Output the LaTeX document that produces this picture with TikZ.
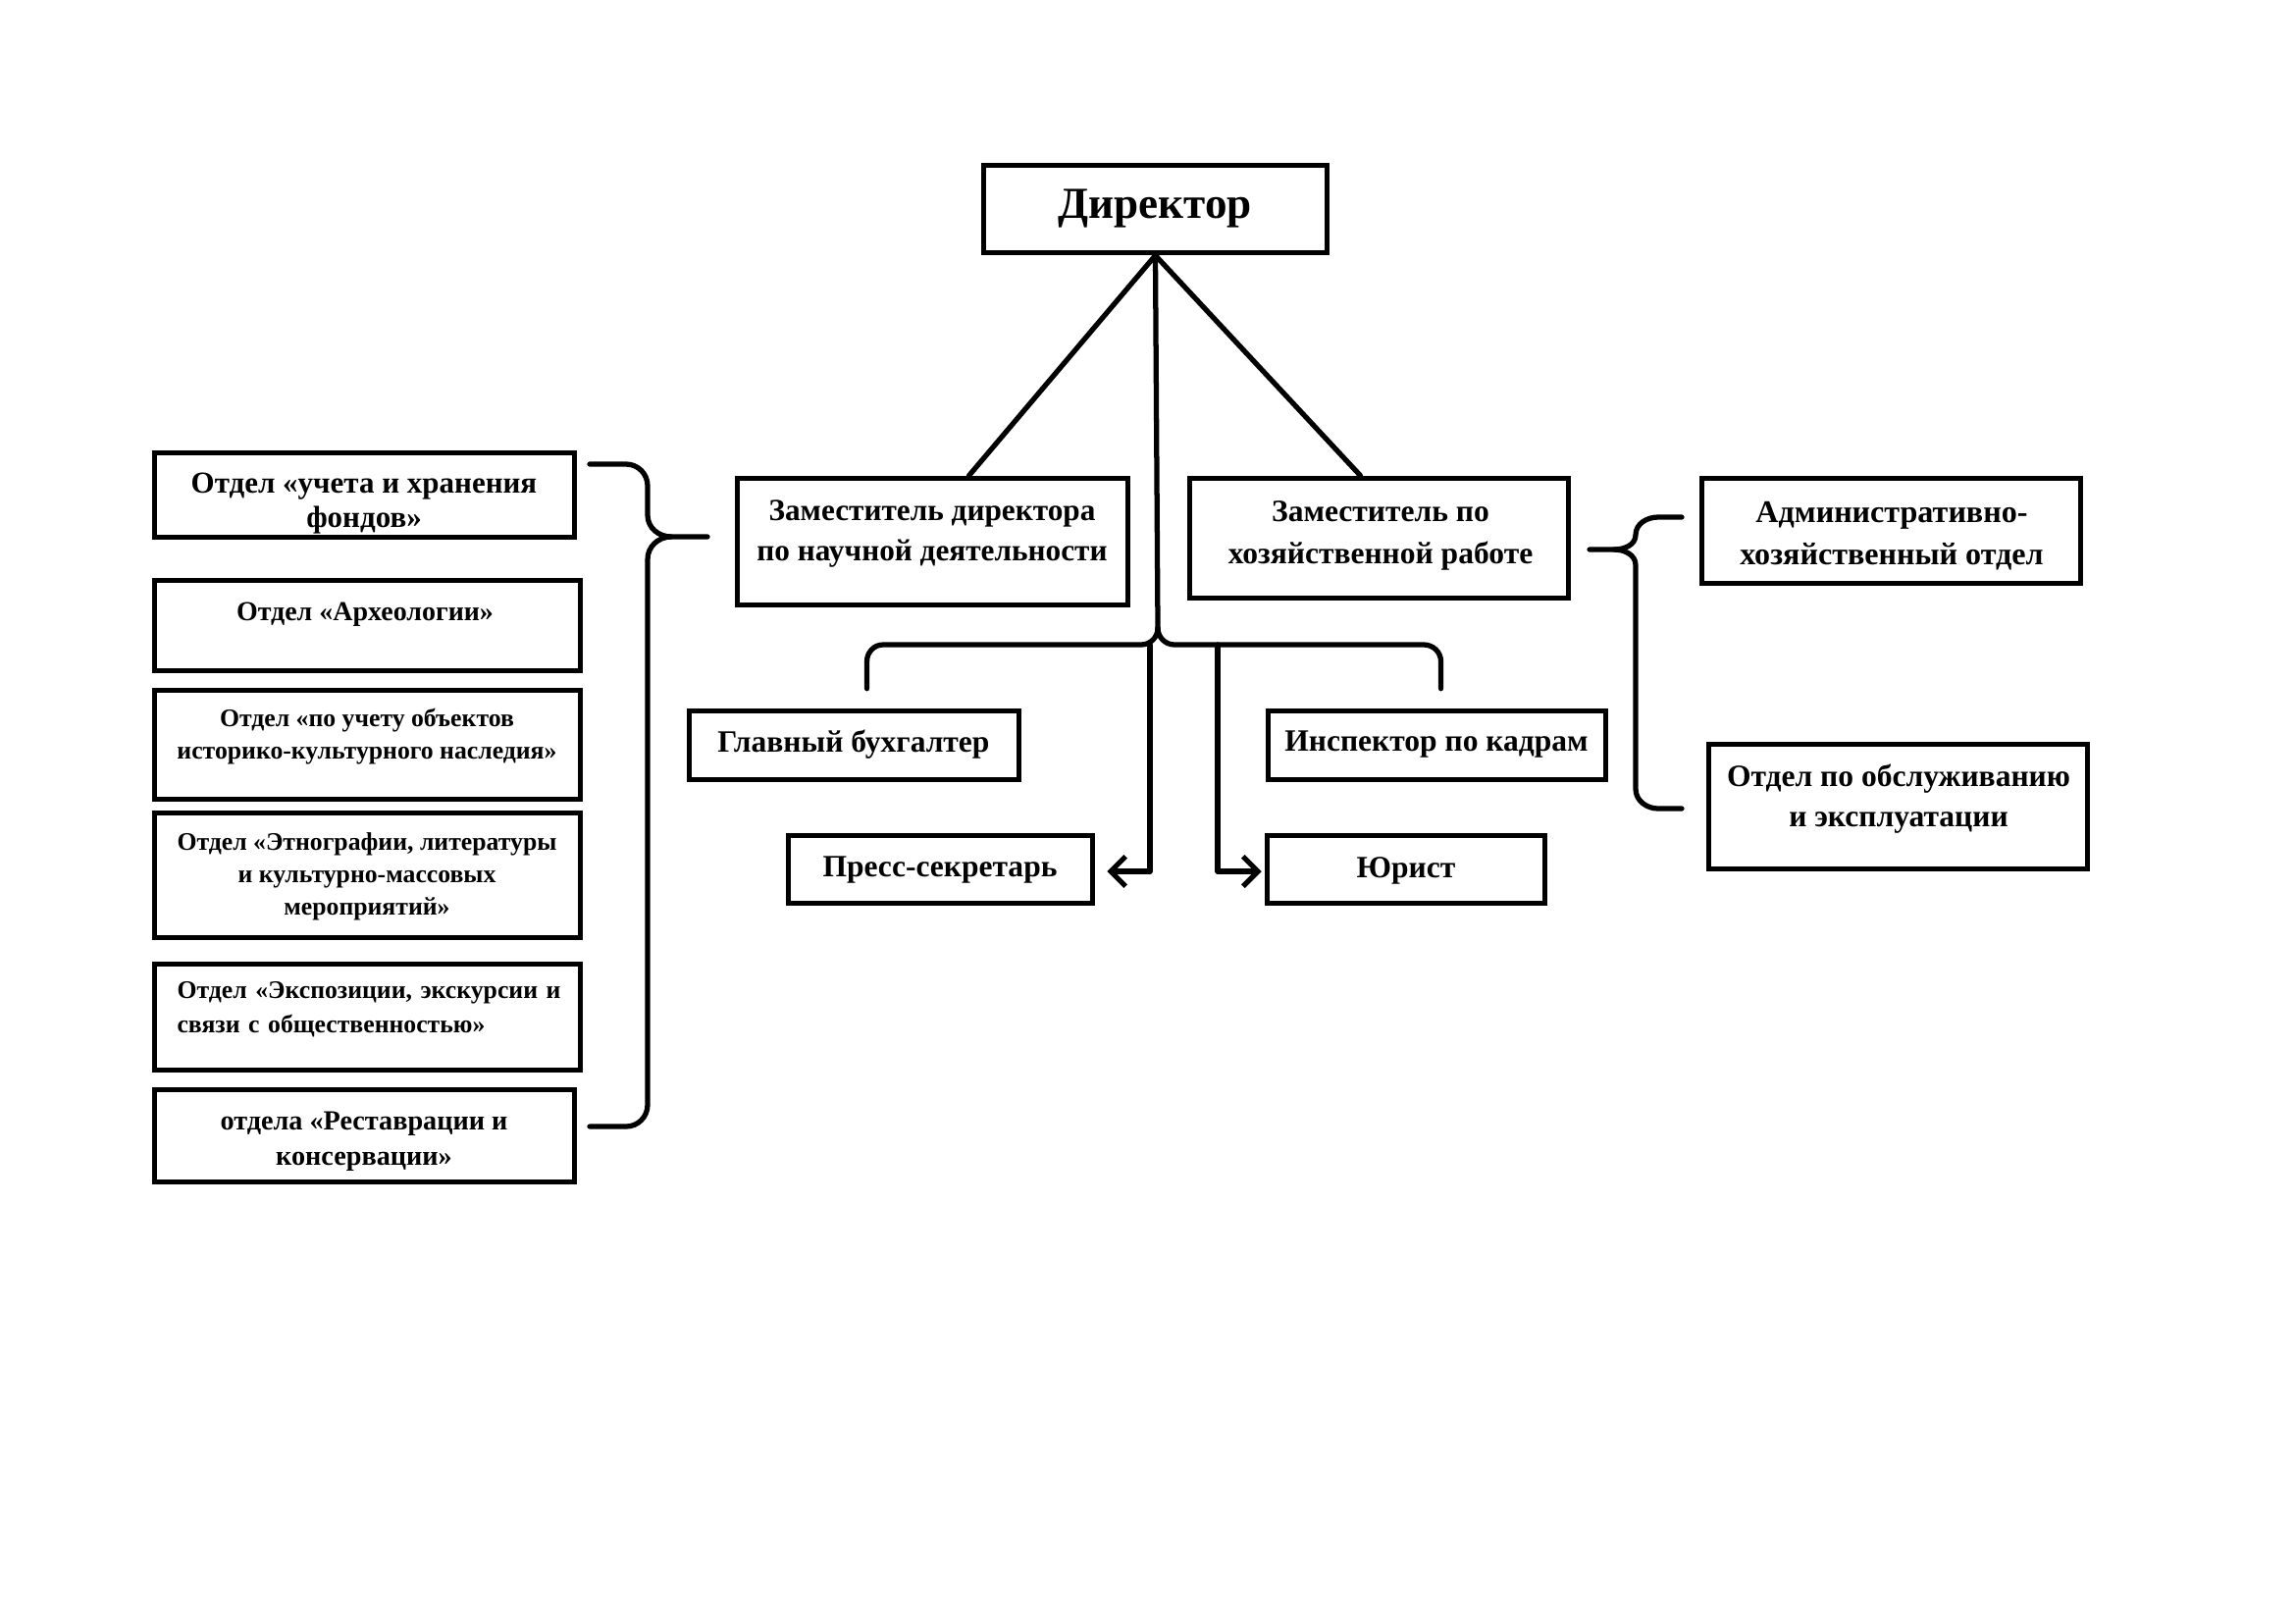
\documentclass[tikz,border=0pt]{standalone}
\usepackage{fontspec}
\setmainfont{Liberation Serif}
\usetikzlibrary{arrows.meta,calc}
\tikzset{
  box/.style={draw, line width=2pt, rectangle, inner sep=0pt, fill=white},
  txt/.style={align=center, inner sep=0pt},
  conn/.style={line width=1.9pt, line cap=round, line join=round},
  tip/.style={-{Straight Barb[length=5.5pt,width=11pt,line width=1.9pt]}}
}
\newcommand\fs[2]{\fontsize{#1}{#2}\selectfont\bfseries}
\newcommand\bx[5]{\node[box, minimum width={(#4-#2-5)*0.127mm}, minimum height={(#5-#3-5)*0.127mm}] (#1) at ({(#2+#4)/2},{(#3+#5)/2}) {};}
\begin{document}
\begin{tikzpicture}[x=0.127mm,y=-0.127mm]
\useasboundingbox (0,0) rectangle (2339,1654);
\fill[white] (0,0) rectangle (2339,1654);

% boxes
\bx{dir}{1000}{166}{1355}{260}
\bx{zn}{749}{485}{1152}{619}
\bx{zh}{1210}{485}{1601}{612}
\bx{gb}{700}{722}{1041}{797}
\bx{ik}{1290}{722}{1639}{797}
\bx{ps}{801}{849}{1116}{923}
\bx{ju}{1289}{849}{1577}{923}
\bx{ah}{1732}{485}{2123}{597}
\bx{oo}{1739}{756}{2130}{888}
\bx{la}{155}{459}{588}{550}
\bx{lb}{155}{589}{594}{686}
\bx{lc}{155}{701}{594}{817}
\bx{ld}{155}{826}{594}{958}
\bx{le}{155}{980}{594}{1093}
\bx{lf}{155}{1108}{588}{1207}

% texts
\node[txt, font=\fs{16.3}{19}] (tdir) at (1177,213) {Директор};
\node[txt, font=\fs{11.3}{15.1}] (tzn) at (950,544) {Заместитель директора\\по научной деятельности};
\node[txt, font=\fs{11.4}{15.3}] (tzh) at (1407,546) {Заместитель по\\хозяйственной работе};
\node[txt, font=\fs{11.4}{14}] (tgb) at (870,759) {Главный бухгалтер};
\node[txt, font=\fs{11.4}{14}] (tik) at (1464,759) {Инспектор по кадрам};
\node[txt, font=\fs{11.4}{14}] (tps) at (958,887) {Пресс-секретарь};
\node[txt, font=\fs{11.4}{14}] (tju) at (1433,887) {Юрист};
\node[txt, font=\fs{11.6}{15.5}] (tah) at (1928,546) {Административно-\\хозяйственный отдел};
\node[txt, font=\fs{11.4}{15.1}] (too) at (1935,814) {Отдел по обслуживанию\\и эксплуатации};
\node[txt, font=\fs{11.2}{12.6}] (tla) at (371,513) {Отдел «учета и хранения\\фондов»};
\node[txt, font=\fs{10.1}{12}] (tlb) at (372,626) {Отдел «Археологии»};
\node[txt, font=\fs{9.3}{11.9}] (tlc) at (374,751) {Отдел «по учету объектов\\историко-культурного наследия»};
\node[txt, font=\fs{9.3}{11.9}] (tld) at (374,893) {Отдел «Этнографии, литературы\\и культурно-массовых\\мероприятий»};
\node[txt, font=\fs{9.3}{12.6}, anchor=west, align=left, text width=140.8pt] (tle) at (180,1029) {\makebox[\linewidth][s]{Отдел «Экспозиции, экскурсии и}\\связи с общественностью»};
\node[txt, font=\fs{10.2}{13}] (tlf) at (371,1163) {отдела «Реставрации и\\консервации»};

% director to deputies
\draw[conn] (dir.south) -- ($(zn.north)+(37,0)$);
\draw[conn] (dir.south) -- ($(zh.north)+(-19,0)$);

% central trunk with brace
\coordinate (split) at (1180,640);
\coordinate (gbend) at ($(gb.north)+(13,-20)$);
\coordinate (ikend) at ($(ik.north)+(4,-20)$);
\draw[conn] (dir.south) -- (split);
\draw[conn] (split) to[out=-90,in=0] (1163,657) -- (900,657) to[out=180,in=90] (gbend |- 0,674) -- (gbend);
\draw[conn] (split) to[out=-90,in=180] (1197,657) -- (1451,657) to[out=0,in=90] (ikend |- 0,674) -- (ikend);

% arrows to press secretary and lawyer
\draw[conn,tip] (1172,657) |- ($(ps.east)+(12,2)$);
\draw[conn,tip] (1241,657) |- ($(ju.west)+(-3,2)$);

% left brace
\coordinate (lbtop) at (601,473);
\coordinate (lbbot) at (601,1148);
\coordinate (lbtip) at (721,547);
\draw[conn] (lbtop) -- (638,473) to[out=0,in=90] (660,495) -- (660,525) to[out=-90,in=180] (684,547) -- (lbtip);
\draw[conn] (684,547) to[out=180,in=90] (660,570) -- (660,1126) to[out=-90,in=0] (638,1148) -- (lbbot);

% right brace
\coordinate (rbtop) at (1714,527);
\coordinate (rbbot) at (1714,824);
\coordinate (rbtip) at (1620,560);
\draw[conn] (rbtop) -- (1690,527) to[out=180,in=90] (1667,545) to[out=-90,in=0] (1645,560) -- (rbtip);
\draw[conn] (1645,560) to[out=0,in=90] (1667,576) -- (1667,804) to[out=-90,in=180] (1690,824) -- (rbbot);
\end{tikzpicture}
\end{document}
